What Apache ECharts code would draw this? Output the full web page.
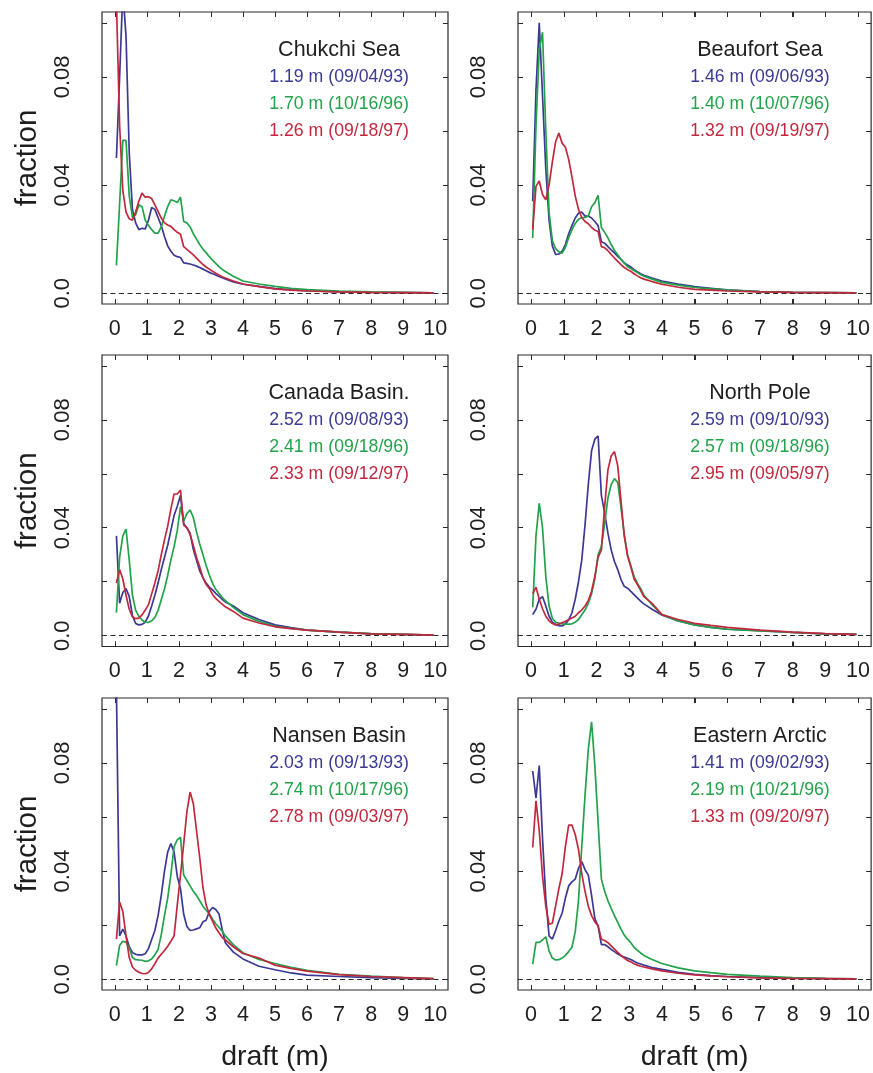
<!DOCTYPE html>
<html>
<head>
<meta charset="utf-8">
<script src="https://cdn.jsdelivr.net/npm/echarts@6/dist/echarts.min.js"></script>
<style>
  html, body { margin: 0; padding: 0; background: #ffffff; }
  #chart { width: 873px; height: 1073px; }
</style>
</head>
<body>
<div id="chart"></div>
<script>
// Ice draft bin centres (m)
const DRAFT = [
  0.05, 0.15, 0.25, 0.35, 0.45, 0.55, 0.65, 0.75, 0.85, 0.95,
  1.05, 1.15, 1.25, 1.35, 1.45, 1.55, 1.65, 1.75, 1.85, 1.95,
  2.05, 2.15, 2.25, 2.35, 2.45, 2.55, 2.65, 2.75, 2.85, 2.95,
  3.05, 3.15, 3.25, 3.35, 3.45, 3.7, 4.0, 4.5, 5.0, 5.5,
  6.0, 7.0, 8.0, 9.0, 9.95
];

// Fraction of ice in each draft bin, one array per cruise and region
const chukchi93 = [
  0.050, 0.080, 0.112, 0.095, 0.052, 0.031, 0.026, 0.0235, 0.024, 0.0238,
  0.027, 0.0317, 0.031, 0.028, 0.025, 0.021, 0.0175, 0.0155, 0.014, 0.0135,
  0.0132, 0.0112, 0.011, 0.0108, 0.0104, 0.0100, 0.0095, 0.0089, 0.0083, 0.0077,
  0.0072, 0.0067, 0.0062, 0.0057, 0.0053, 0.0042, 0.0033, 0.0025, 0.0017, 0.0012,
  0.0009, 0.0005, 0.0003, 0.0002, 0.0001
];
const chukchi96 = [
  0.0103, 0.033, 0.0565, 0.0565, 0.036, 0.028, 0.029, 0.0327, 0.032, 0.027,
  0.025, 0.0235, 0.0222, 0.0222, 0.0245, 0.0285, 0.032, 0.0345, 0.0342, 0.0335,
  0.0355, 0.0265, 0.026, 0.0245, 0.022, 0.020, 0.018, 0.0163, 0.015, 0.0135,
  0.0122, 0.011, 0.0098, 0.0088, 0.0080, 0.0063, 0.0045, 0.0034, 0.0025, 0.0018,
  0.0013, 0.0008, 0.0005, 0.0003, 0.0001
];
const chukchi97 = [
  0.108, 0.062, 0.038, 0.030, 0.0275, 0.027, 0.030, 0.034, 0.037, 0.0355,
  0.0357, 0.035, 0.0327, 0.0303, 0.0278, 0.026, 0.0252, 0.0247, 0.0235, 0.0225,
  0.0218, 0.0172, 0.0162, 0.0152, 0.0142, 0.013, 0.0118, 0.0106, 0.0097, 0.0089,
  0.0081, 0.0074, 0.0067, 0.0061, 0.0056, 0.0045, 0.0034, 0.0024, 0.0016, 0.0011,
  0.0008, 0.0005, 0.0003, 0.0002, 0.0001
];

const beaufort93 = [
  0.034, 0.075, 0.100, 0.073, 0.046, 0.027, 0.0175, 0.0143, 0.0145, 0.0155,
  0.018, 0.022, 0.025, 0.0278, 0.0296, 0.030, 0.0285, 0.0285, 0.0278, 0.0265,
  0.025, 0.019, 0.0185, 0.0172, 0.016, 0.0149, 0.0136, 0.0125, 0.0112, 0.0104,
  0.0097, 0.0087, 0.0079, 0.0072, 0.0066, 0.0056, 0.0045, 0.0034, 0.0024, 0.0018,
  0.0012, 0.0006, 0.0003, 0.0002, 0.0001
];
const beaufort96 = [
  0.0204, 0.062, 0.090, 0.0965, 0.060, 0.030, 0.0195, 0.0165, 0.0153, 0.0148,
  0.017, 0.0205, 0.0235, 0.0258, 0.0273, 0.028, 0.028, 0.0285, 0.032, 0.0335,
  0.0362, 0.0243, 0.0225, 0.0205, 0.018, 0.0158, 0.0142, 0.0125, 0.0112, 0.0098,
  0.0091, 0.0084, 0.0076, 0.0069, 0.0063, 0.0052, 0.0040, 0.0030, 0.0021, 0.0016,
  0.0011, 0.0006, 0.0003, 0.0002, 0.0001
];
const beaufort97 = [
  0.0235, 0.0395, 0.0415, 0.0365, 0.0345, 0.040, 0.0485, 0.056, 0.0592, 0.0555,
  0.054, 0.0495, 0.043, 0.036, 0.031, 0.028, 0.0265, 0.0257, 0.0243, 0.0233,
  0.0228, 0.0172, 0.0168, 0.0157, 0.0143, 0.013, 0.0118, 0.0106, 0.0095, 0.0087,
  0.0081, 0.0072, 0.0064, 0.0057, 0.0052, 0.0043, 0.0033, 0.0022, 0.0014, 0.0011,
  0.0008, 0.0005, 0.0003, 0.0002, 0.0001
];

const canada93 = [
  0.037, 0.012, 0.016, 0.0175, 0.0145, 0.0075, 0.0045, 0.004, 0.0042, 0.005,
  0.0073, 0.011, 0.015, 0.0195, 0.0245, 0.029, 0.0335, 0.039, 0.0445, 0.048,
  0.052, 0.0415, 0.040, 0.038, 0.032, 0.028, 0.024, 0.0215, 0.0195, 0.018,
  0.017, 0.0157, 0.0147, 0.0135, 0.0125, 0.011, 0.0085, 0.006, 0.004, 0.003,
  0.0021, 0.0013, 0.0007, 0.0005, 0.0002
];
const canada96 = [
  0.0085, 0.029, 0.037, 0.0395, 0.028, 0.015, 0.0095, 0.0072, 0.0058, 0.005,
  0.0049, 0.0055, 0.0068, 0.0093, 0.0133, 0.0173, 0.0223, 0.0281, 0.033, 0.039,
  0.0478, 0.0425, 0.0452, 0.0466, 0.0438, 0.0385, 0.034, 0.030, 0.026, 0.0225,
  0.0195, 0.0172, 0.0157, 0.0142, 0.013, 0.0105, 0.0078, 0.0053, 0.0035, 0.0027,
  0.0021, 0.0013, 0.0008, 0.0005, 0.0002
];
const canada97 = [
  0.0195, 0.0245, 0.021, 0.015, 0.0098, 0.007, 0.0063, 0.0065, 0.0077, 0.0095,
  0.0115, 0.0155, 0.0195, 0.024, 0.030, 0.0355, 0.0405, 0.047, 0.0525, 0.0525,
  0.054, 0.041, 0.040, 0.0375, 0.0335, 0.029, 0.0255, 0.0215, 0.019, 0.0175,
  0.0153, 0.0138, 0.0127, 0.0117, 0.0107, 0.009, 0.0065, 0.0047, 0.0033, 0.0026,
  0.0021, 0.0013, 0.0007, 0.0005, 0.0002
];

const northPole93 = [
  0.0078, 0.0098, 0.0135, 0.0145, 0.011, 0.0072, 0.005, 0.0042, 0.0037, 0.0036,
  0.0044, 0.0058, 0.0085, 0.0135, 0.020, 0.028, 0.041, 0.056, 0.0685, 0.0728,
  0.074, 0.052, 0.0455, 0.038, 0.0318, 0.0275, 0.0245, 0.0208, 0.0183, 0.0176,
  0.0164, 0.0152, 0.014, 0.0128, 0.0118, 0.0098, 0.0077, 0.0055, 0.004, 0.0031,
  0.0024, 0.0019, 0.0012, 0.0007, 0.0005
];
const northPole96 = [
  0.0105, 0.037, 0.049, 0.040, 0.022, 0.011, 0.0065, 0.005, 0.0047, 0.0044,
  0.0043, 0.0043, 0.0044, 0.005, 0.006, 0.0078, 0.0095, 0.012, 0.0155, 0.021,
  0.030, 0.033, 0.0415, 0.051, 0.056, 0.0582, 0.0568, 0.0475, 0.0375, 0.030,
  0.026, 0.022, 0.0195, 0.0175, 0.015, 0.0115, 0.0078, 0.0055, 0.004, 0.0031,
  0.0024, 0.0018, 0.0012, 0.0007, 0.0005
];
const northPole97 = [
  0.0155, 0.018, 0.0135, 0.010, 0.0072, 0.0055, 0.0045, 0.004, 0.0043, 0.0048,
  0.0053, 0.006, 0.0066, 0.0072, 0.0085, 0.0095, 0.011, 0.013, 0.0165, 0.022,
  0.029, 0.0318, 0.0478, 0.0614, 0.0666, 0.0682, 0.063, 0.050, 0.037, 0.0295,
  0.0255, 0.021, 0.019, 0.0168, 0.0145, 0.012, 0.0078, 0.006, 0.0046, 0.0038,
  0.0031, 0.0021, 0.0013, 0.0008, 0.0005
];

const nansen93 = [
  0.108, 0.016, 0.0185, 0.016, 0.012, 0.0098, 0.0092, 0.009, 0.009, 0.0094,
  0.0113, 0.0147, 0.018, 0.0235, 0.031, 0.040, 0.047, 0.0502, 0.047, 0.038,
  0.0335, 0.024, 0.0195, 0.018, 0.0182, 0.0186, 0.019, 0.0212, 0.0218, 0.025,
  0.0265, 0.0258, 0.0242, 0.0185, 0.0135, 0.010, 0.0075, 0.0048, 0.0035, 0.0023,
  0.0015, 0.001, 0.0006, 0.0003, 0.0001
];
const nansen96 = [
  0.005, 0.0125, 0.014, 0.0137, 0.0115, 0.008, 0.0072, 0.0071, 0.007, 0.0066,
  0.0068, 0.0075, 0.009, 0.011, 0.0165, 0.0235, 0.030, 0.0387, 0.049, 0.0515,
  0.0525, 0.0385, 0.0365, 0.0345, 0.0325, 0.031, 0.029, 0.027, 0.0255, 0.0242,
  0.0222, 0.0205, 0.0192, 0.0177, 0.016, 0.0128, 0.0098, 0.0073, 0.0058, 0.0044,
  0.0033, 0.0018, 0.0011, 0.0006, 0.0002
];
const nansen97 = [
  0.0148, 0.0285, 0.025, 0.016, 0.008, 0.0045, 0.0033, 0.0026, 0.0021, 0.002,
  0.0025, 0.0038, 0.0057, 0.0078, 0.0092, 0.0106, 0.0122, 0.014, 0.016, 0.0275,
  0.0385, 0.050, 0.062, 0.0692, 0.065, 0.055, 0.045, 0.034, 0.0275, 0.024,
  0.0215, 0.019, 0.0172, 0.0155, 0.0145, 0.012, 0.0095, 0.0078, 0.0052, 0.004,
  0.003, 0.0017, 0.001, 0.0006, 0.0002
];

const eastern93 = [
  0.077, 0.067, 0.079, 0.052, 0.030, 0.016, 0.0148, 0.018, 0.0215, 0.0245,
  0.030, 0.0345, 0.036, 0.037, 0.041, 0.0435, 0.0405, 0.0385, 0.031, 0.0225,
  0.0195, 0.0128, 0.0128, 0.012, 0.011, 0.0102, 0.0093, 0.0087, 0.0082, 0.0077,
  0.0073, 0.0066, 0.006, 0.0056, 0.0052, 0.0043, 0.0036, 0.0025, 0.0018, 0.0013,
  0.001, 0.0006, 0.0004, 0.0002, 0.0001
];
const eastern96 = [
  0.0056, 0.0136, 0.0136, 0.0145, 0.0157, 0.0105, 0.0078, 0.0071, 0.0072, 0.0078,
  0.0088, 0.0102, 0.0118, 0.0175, 0.029, 0.049, 0.068, 0.085, 0.0952, 0.079,
  0.058, 0.037, 0.0325, 0.029, 0.0262, 0.0235, 0.021, 0.0185, 0.0163, 0.0148,
  0.0135, 0.0118, 0.0107, 0.0097, 0.0088, 0.0073, 0.0058, 0.0042, 0.0031, 0.0024,
  0.0018, 0.0011, 0.0006, 0.0003, 0.0001
];
const eastern97 = [
  0.0487, 0.066, 0.055, 0.038, 0.027, 0.0203, 0.0207, 0.027, 0.0335, 0.039,
  0.049, 0.057, 0.057, 0.0535, 0.048, 0.039, 0.0325, 0.027, 0.0235, 0.0212,
  0.0198, 0.0148, 0.0143, 0.0135, 0.0123, 0.0111, 0.0099, 0.0088, 0.0078, 0.0069,
  0.0064, 0.0057, 0.0052, 0.0048, 0.0045, 0.0038, 0.0031, 0.0022, 0.0016, 0.0012,
  0.0009, 0.0005, 0.0003, 0.0002, 0.0001
];

// Panel names and per-cruise annotations (mean draft, survey date)
const REGIONS = ['Chukchi Sea', 'Beaufort Sea', 'Canada Basin.', 'North Pole', 'Nansen Basin', 'Eastern Arctic'];
const REGION_SERIES = [
  [chukchi93, chukchi96, chukchi97],
  [beaufort93, beaufort96, beaufort97],
  [canada93, canada96, canada97],
  [northPole93, northPole96, northPole97],
  [nansen93, nansen96, nansen97],
  [eastern93, eastern96, eastern97]
];
const MEAN_DRAFT_93 = [1.19, 1.46, 2.52, 2.59, 2.03, 1.41];
const MEAN_DRAFT_96 = [1.70, 1.40, 2.41, 2.57, 2.74, 2.19];
const MEAN_DRAFT_97 = [1.26, 1.32, 2.33, 2.95, 2.78, 1.33];
const DATE_93 = ['09/04/93', '09/06/93', '09/08/93', '09/10/93', '09/13/93', '09/02/93'];
const DATE_96 = ['10/16/96', '10/07/96', '09/18/96', '09/18/96', '10/17/96', '10/21/96'];
const DATE_97 = ['09/18/97', '09/19/97', '09/12/97', '09/05/97', '09/03/97', '09/20/97'];

// Axis ticks and labels
const DRAFT_TICKS = [0, 1, 2, 3, 4, 5, 6, 7, 8, 9, 10];
const FRACTION_TICKS = [0, 0.02, 0.04, 0.06, 0.08, 0.1];
const FRACTION_LABEL_VALUES = [0, 0.04, 0.08];
const FRACTION_LABEL_TEXT = ['0.0', '0.04', '0.08'];

const CRUISE_COLORS = ['#3b3993', '#22a34a', '#c2283d'];
const FONT = '"Liberation Sans", Arial, Helvetica, sans-serif';
const INK = '#1e1e1e';
const FRAME = '#2a2a2a';
const TICK_LEN = 5;

// Panel layout: 3 rows x 2 columns
const COLS = [{ left: 102, width: 346 }, { left: 518, width: 353.5 }];
const ROWS = [{ top: 12, height: 292 }, { top: 355, height: 291.5 }, { top: 698, height: 294.6 }];
const X_RANGE = [-0.4, 10.4];
const Y_RANGE = [-0.004, 0.104];

// Fresh option objects for every axis
function frameLine() { return { show: false, onZero: false }; }
function innerTicks(values) {
  return { show: true, inside: true, length: TICK_LEN, customValues: values,
           lineStyle: { color: FRAME, width: 1 } };
}

const grids = [], xAxes = [], yAxes = [], series = [];

REGIONS.forEach((name, g) => {
  const col = COLS[g % 2], row = ROWS[Math.floor(g / 2)];
  const isBottom = g >= 4, isLeft = g % 2 === 0;

  grids.push({
    left: col.left, top: row.top, width: col.width, height: row.height,
    show: true, borderColor: FRAME, borderWidth: 1.2, backgroundColor: 'transparent'
  });

  xAxes.push({
    gridIndex: g, type: 'value', position: 'bottom', min: X_RANGE[0], max: X_RANGE[1],
    axisLine: frameLine(), splitLine: { show: false },
    axisTick: innerTicks(DRAFT_TICKS),
    axisLabel: {
      customValues: DRAFT_TICKS, margin: 14, fontSize: 21.5, color: INK, fontFamily: FONT,
      formatter: v => String(Math.round(v))
    },
    name: isBottom ? 'draft (m)' : '', nameLocation: 'middle', nameGap: 53,
    nameTextStyle: { fontSize: 28.5, color: INK, fontFamily: FONT }
  });
  xAxes.push({
    gridIndex: g, type: 'value', position: 'top', min: X_RANGE[0], max: X_RANGE[1],
    axisLine: frameLine(), splitLine: { show: false }, axisLabel: { show: false },
    axisTick: innerTicks(DRAFT_TICKS)
  });

  yAxes.push({
    gridIndex: g, type: 'value', position: 'left', min: Y_RANGE[0], max: Y_RANGE[1],
    axisLine: frameLine(), splitLine: { show: false },
    axisTick: innerTicks(FRACTION_TICKS),
    axisLabel: {
      customValues: FRACTION_LABEL_VALUES, rotate: 90, margin: 28,
      fontSize: 22, color: INK, fontFamily: FONT,
      formatter: v => {
        let best = 0;
        FRACTION_LABEL_VALUES.forEach((t, i) => {
          if (Math.abs(t - v) < Math.abs(FRACTION_LABEL_VALUES[best] - v)) best = i;
        });
        return FRACTION_LABEL_TEXT[best];
      }
    },
    name: isLeft ? 'fraction' : '', nameLocation: 'middle', nameRotate: 90, nameGap: 59,
    nameTextStyle: { fontSize: 29.5, color: INK, fontFamily: FONT }
  });
  yAxes.push({
    gridIndex: g, type: 'value', position: 'right', min: Y_RANGE[0], max: Y_RANGE[1],
    axisLine: frameLine(), splitLine: { show: false }, axisLabel: { show: false },
    axisTick: innerTicks(FRACTION_TICKS)
  });

  REGION_SERIES[g].forEach((vals, k) => {
    const s = {
      type: 'line', xAxisIndex: 2 * g, yAxisIndex: 2 * g,
      data: DRAFT.map((d, i) => [d, vals[i]]),
      showSymbol: false, symbol: 'none', clip: true, silent: true,
      lineStyle: { color: CRUISE_COLORS[k], width: 1.7 },
      z: 3 + k
    };
    if (k === 0) {
      s.markLine = {
        silent: true, symbol: ['none', 'none'], label: { show: false },
        lineStyle: { type: [5, 3.5], color: FRAME, width: 1 },
        data: [{ yAxis: 0 }]
      };
    }
    series.push(s);
  });
});

const chart = echarts.init(document.getElementById('chart'), null, { renderer: 'canvas' });
chart.setOption({
  animation: false,
  backgroundColor: '#ffffff',
  grid: grids, xAxis: xAxes, yAxis: yAxes, series: series
});

const graphics = [];
REGIONS.forEach((name, g) => {
  const finder = { seriesIndex: 3 * g };

  // Inward draft ticks along the top and bottom edges of each panel frame
  DRAFT_TICKS.forEach(t => {
    const pb = chart.convertToPixel(finder, [t, Y_RANGE[0]]);
    const pt = chart.convertToPixel(finder, [t, Y_RANGE[1]]);
    const x = Math.round(pb[0]) + 0.5;
    [[pb[1], pb[1] - TICK_LEN], [pt[1], pt[1] + TICK_LEN]].forEach(([y1, y2]) => {
      graphics.push({
        type: 'line', silent: true, z: 10,
        shape: { x1: x, y1: y1, x2: x, y2: y2 },
        style: { stroke: FRAME, lineWidth: 1 }
      });
    });
  });

  // Region name and cruise annotations, placed in data coordinates
  const lines = [
    { text: name, y: 0.09, color: INK, size: 21.5 },
    { text: MEAN_DRAFT_93[g].toFixed(2) + ' m (' + DATE_93[g] + ')', y: 0.08, color: CRUISE_COLORS[0], size: 17.7 },
    { text: MEAN_DRAFT_96[g].toFixed(2) + ' m (' + DATE_96[g] + ')', y: 0.07, color: CRUISE_COLORS[1], size: 17.7 },
    { text: MEAN_DRAFT_97[g].toFixed(2) + ' m (' + DATE_97[g] + ')', y: 0.06, color: CRUISE_COLORS[2], size: 17.7 }
  ];
  lines.forEach(l => {
    const p = chart.convertToPixel(finder, [7, l.y]);
    graphics.push({
      type: 'text', x: p[0], y: p[1], silent: true,
      style: {
        text: l.text, fill: l.color, fontSize: l.size, fontFamily: FONT,
        textAlign: 'center', textVerticalAlign: 'middle'
      }
    });
  });
});
chart.setOption({ graphic: graphics });
</script>
</body>
</html>
